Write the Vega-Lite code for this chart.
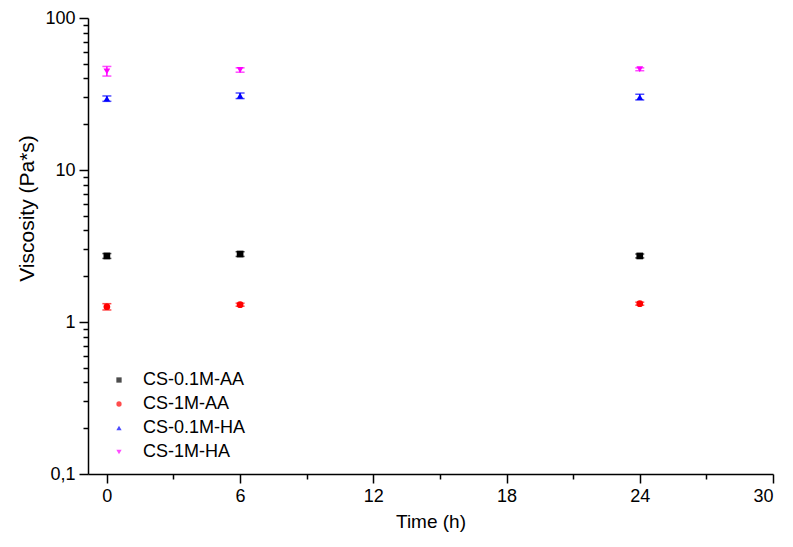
{
  "$schema": "https://vega.github.io/schema/vega-lite/v6.json",
  "width": 685,
  "height": 456,
  "autosize": "none",
  "padding": {"left": 88, "top": 18, "right": 20, "bottom": 73},
  "background": "white",
  "config": {
    "view": {"stroke": null},
    "font": "Liberation Sans",
    "axis": {"grid": false, "domainColor": "#000", "tickColor": "#000", "labelColor": "#000", "titleColor": "#000", "labelFont": "Liberation Sans", "titleFont": "Liberation Sans", "titleFontWeight": "normal", "domainWidth": 1.5, "tickWidth": 1.5}
  },
  "data": {
    "values": [
      {"series": "CS-0.1M-AA", "time": 0, "v": 2.72, "lo": 2.62, "hi": 2.82},
      {"series": "CS-0.1M-AA", "time": 6, "v": 2.8, "lo": 2.7, "hi": 2.9},
      {"series": "CS-0.1M-AA", "time": 24, "v": 2.72, "lo": 2.64, "hi": 2.8},
      {"series": "CS-1M-AA", "time": 0, "v": 1.26, "lo": 1.2, "hi": 1.32},
      {"series": "CS-1M-AA", "time": 6, "v": 1.3, "lo": 1.27, "hi": 1.33},
      {"series": "CS-1M-AA", "time": 24, "v": 1.32, "lo": 1.29, "hi": 1.35},
      {"series": "CS-0.1M-HA", "time": 0, "v": 29.5, "lo": 28.3, "hi": 30.7},
      {"series": "CS-0.1M-HA", "time": 6, "v": 30.8, "lo": 29.5, "hi": 32.1},
      {"series": "CS-0.1M-HA", "time": 24, "v": 30.2, "lo": 28.9, "hi": 31.5},
      {"series": "CS-1M-HA", "time": 0, "v": 44.5, "lo": 41.5, "hi": 48.0},
      {"series": "CS-1M-HA", "time": 6, "v": 45.5, "lo": 44.0, "hi": 47.0},
      {"series": "CS-1M-HA", "time": 24, "v": 46.0, "lo": 45.0, "hi": 47.0}
    ]
  },
  "layer": [
    {
      "mark": {"type": "point", "opacity": 0},
      "encoding": {
        "x": {"field": "time", "type": "quantitative", "scale": {"domain": [-0.85, 30], "nice": false, "zero": false},
          "axis": {"orient": "bottom", "values": [3, 9, 15, 21, 27], "labels": false, "domain": false, "tickSize": 5, "title": null}},
        "y": {"field": "v", "type": "quantitative", "scale": {"type": "log", "domain": [0.1, 100], "nice": false},
          "axis": {"orient": "left", "values": [0.2,0.3,0.4,0.5,0.6,0.7,0.8,0.9,2,3,4,5,6,7,8,9,20,30,40,50,60,70,80,90], "labels": false, "domain": false, "tickSize": 5, "title": null}}
      }
    },
    {
      "mark": {"type": "errorbar", "ticks": {"size": 9, "thickness": 1.5}, "thickness": 1.5},
      "encoding": {
        "x": {"field": "time", "type": "quantitative", "axis": null},
        "y": {"field": "lo", "type": "quantitative", "axis": null},
        "y2": {"field": "hi"},
        "color": {"field": "series", "type": "nominal",
          "scale": {"domain": ["CS-0.1M-AA", "CS-1M-AA", "CS-0.1M-HA", "CS-1M-HA"], "range": ["#000000", "#ff0000", "#0000ff", "#ff00ff"]}}
      }
    },
    {
      "mark": {"type": "point", "filled": true, "size": 45, "opacity": 1},
      "encoding": {
        "x": {"field": "time", "type": "quantitative",
          "axis": {"orient": "bottom", "values": [0, 6, 12, 18, 24, 30], "tickSize": 9, "labelFontSize": 18, "labelPadding": 4, "title": "Time (h)", "titleFontSize": 19, "titlePadding": 7}},
        "y": {"field": "v", "type": "quantitative",
          "axis": {"orient": "left", "values": [0.1, 1, 10, 100], "tickSize": 9, "labelFontSize": 18, "labelPadding": 4, "labelExpr": "datum.value < 0.5 ? '0,1' : format(datum.value, 'd')", "title": "Viscosity (Pa*s)", "titleFontSize": 21, "titlePadding": 7, "titleY": 190}},
        "color": {"field": "series", "type": "nominal",
          "scale": {"domain": ["CS-0.1M-AA", "CS-1M-AA", "CS-0.1M-HA", "CS-1M-HA"], "range": ["#000000", "#ff0000", "#0000ff", "#ff00ff"]},
          "legend": {"title": null, "orient": "none", "legendX": 22, "legendY": 353, "labelFontSize": 18, "labelColor": "#000", "labelFont": "Liberation Sans", "symbolSize": 28, "symbolOpacity": 1, "symbolStrokeWidth": 0, "rowPadding": 6, "labelOffset": 15}},
        "shape": {"field": "series", "type": "nominal",
          "scale": {"domain": ["CS-0.1M-AA", "CS-1M-AA", "CS-0.1M-HA", "CS-1M-HA"], "range": ["square", "circle", "triangle-up", "triangle-down"]},
          "legend": {"title": null, "orient": "none", "legendX": 22, "legendY": 353, "labelFontSize": 18, "labelColor": "#000", "labelFont": "Liberation Sans", "symbolSize": 28, "symbolOpacity": 1, "symbolStrokeWidth": 0, "rowPadding": 6, "labelOffset": 15}}
      }
    }
  ],
  "resolve": {"axis": {"x": "independent", "y": "independent"}}
}
